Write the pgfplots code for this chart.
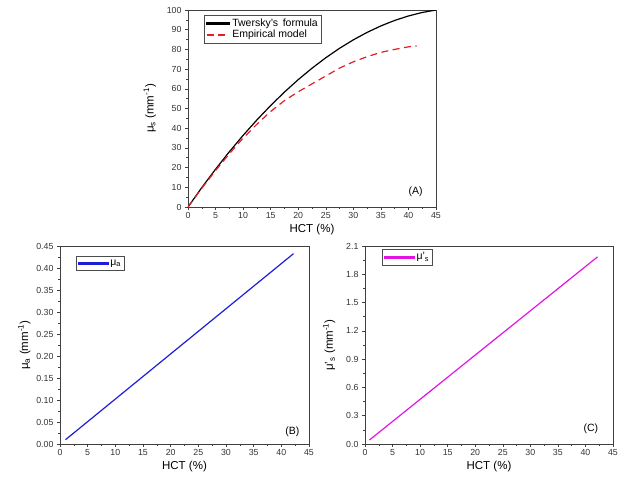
\documentclass[border=0pt]{standalone}
\usepackage{pgfplots}
\pgfplotsset{compat=1.18}
\usepackage{fontspec}
\setmainfont{Liberation Sans}
\definecolor{cred}{RGB}{228,30,36}
\definecolor{cblue}{RGB}{30,30,215}
\definecolor{cmag}{RGB}{225,20,225}
\pgfplotsset{
  common/.style={
    scale only axis,
    anchor=south west,
    axis line style={line width=0.6pt, black!75},
    tick align=outside,
    xtick pos=bottom, ytick pos=left,
    minor tick num=1,
    major tick length=3pt, minor tick length=1.6pt,
    every tick/.style={black!75, line width=0.5pt},
    /pgf/number format/assume math mode=true,
    tick label style={font=\fontsize{8.8}{10}\selectfont, black!80},
    xticklabel style={yshift=1pt},
    label style={font=\fontsize{11.5}{13}\selectfont},
    xlabel={HCT (\%)},
    xlabel style={yshift=1pt},
    legend style={font=\fontsize{10.5}{12}\selectfont, draw=black!70, line width=0.5pt, inner sep=1.5pt, row sep=-1.5pt},
    legend cell align=left,
  }
}
\begin{document}
\begin{tikzpicture}
\path (0pt,0pt) rectangle (625pt,483pt);
% Panel A
\begin{axis}[common,
  at={(188pt,276pt)}, width=248pt, height=197pt,
  xmin=0, xmax=45, ymin=0, ymax=100,
  xtick={0,5,...,45}, ytick={0,10,...,100},
  ylabel={μ\textsubscript{s} (mm\textsuperscript{-1})},
  ylabel style={yshift=4pt},
  legend style={at={(0.065,0.975)}, anchor=north west},
]
\addlegendimage{legend image code/.code={\fill[black] (0pt,-0.7pt) rectangle (23pt,0.7pt);}}
\addlegendentry{Twersky's\, formula}
\addlegendimage{legend image code/.code={\draw[cred, line width=1.4pt, dash pattern=on 7pt off 4.5pt] (0pt,0pt) -- (23pt,0pt);}}
\addlegendentry{Empirical model}
\addplot[black, line width=1.2pt, forget plot] coordinates {
(0,0) (2.5,9.85) (5,19.19) (7.5,28.03) (10,36.36) (12.5,44.19) (15,51.52)
(17.5,58.33) (20,64.65) (22.5,70.45) (25,75.76) (27.5,80.56) (30,84.85)
(32.5,88.64) (35,91.92) (37.5,94.70) (40,96.97) (42.5,98.74) (45,100)};
\addplot[cred, line width=1.2pt, dash pattern=on 7pt off 4.5pt, forget plot] coordinates {
(0,0) (2.5,9.5) (5,18.5) (7.5,27) (10,35) (12.5,42) (15,48.5) (17.5,54)
(20,58.5) (22.5,62.5) (25,66.5) (27.5,70.5) (30,73.7) (32.5,76.3)
(35,78.5) (37.5,80) (40,81.3) (41.5,81.8)};
\node[font=\fontsize{10.5}{12}\selectfont] at (axis cs:41.3,7.5) {(A)};
\end{axis}
% Panel B
\begin{axis}[common,
  at={(60pt,39pt)}, width=249pt, height=198pt,
  xmin=0, xmax=45, ymin=0, ymax=0.45,
  xtick={0,5,...,45}, ytick={0,0.05,...,0.45},
  yticklabel style={/pgf/number format/.cd, fixed, fixed zerofill, precision=2},
  ylabel={μ\textsubscript{a} (mm\textsuperscript{-1})},
  ylabel style={yshift=-1pt},
  legend style={at={(0.065,0.95)}, anchor=north west},
]
\addlegendimage{legend image code/.code={\fill[cblue] (0pt,-0.7pt) rectangle (30pt,0.7pt);}}
\addlegendentry{μ\textsubscript{a}}
\addplot[cblue, line width=1.2pt, forget plot] coordinates {(1,0.0098) (42.2,0.4326)};
\node[font=\fontsize{10.5}{12}\selectfont] at (axis cs:42,0.027) {(B)};
\end{axis}
% Panel C
\begin{axis}[common,
  at={(365pt,39pt)}, width=248pt, height=198pt,
  xmin=0, xmax=45, ymin=0, ymax=2.1,
  xtick={0,5,...,45}, ytick={0,0.3,...,2.1},
  yticklabel style={/pgf/number format/.cd, fixed, fixed zerofill, precision=1},
  ylabel={μ'\textsubscript{s} (mm\textsuperscript{-1})},
  ylabel style={yshift=4pt},
  legend style={at={(0.07,0.985)}, anchor=north west},
]
\addlegendimage{legend image code/.code={\fill[cmag] (0pt,-0.7pt) rectangle (30pt,0.7pt);}}
\addlegendentry{μ'\textsubscript{s}}
\addplot[cmag, line width=1.2pt, forget plot] coordinates {(0.8,0.042) (42.2,1.985)};
\node[font=\fontsize{10.5}{12}\selectfont] at (axis cs:41,0.16) {(C)};
\end{axis}
\end{tikzpicture}
\end{document}
